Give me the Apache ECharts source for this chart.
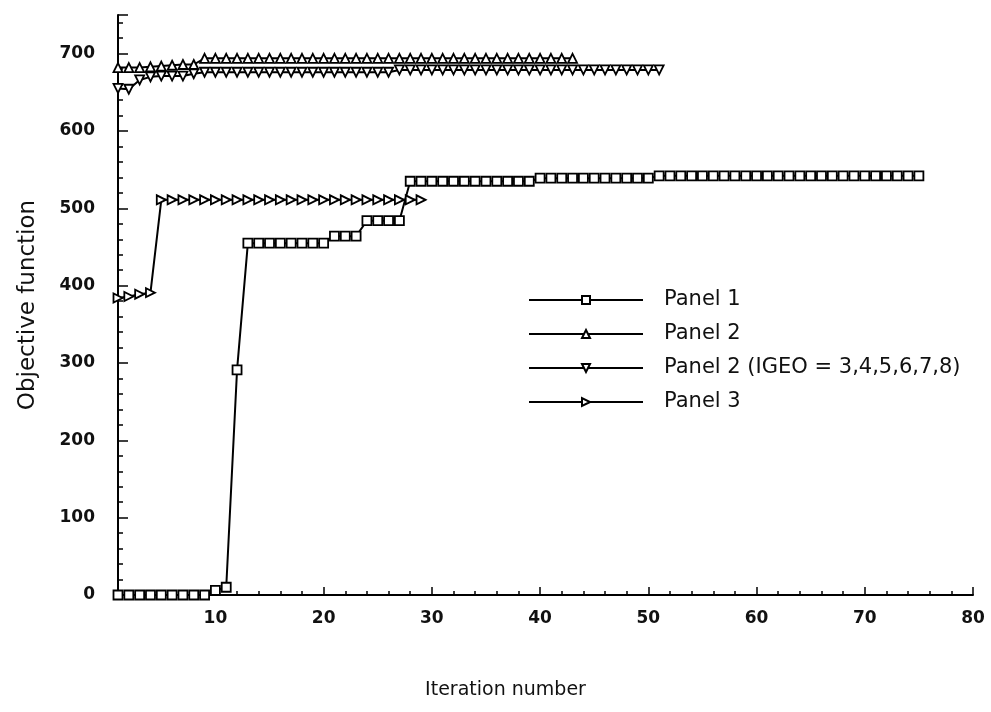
<!DOCTYPE html>
<html>
<head>
<meta charset="utf-8">
<script src="https://cdn.jsdelivr.net/npm/echarts@6/dist/echarts.min.js"></script>
<style>
    html,body{margin:0;padding:0;background:#fff;}
    #chart{width:991px;height:712px;}
</style>
</head>
<body>
<div id="chart"></div>
<script>
//各系列数值，第i个值对应第i+1次迭代
var panel1 = [0,0,0,0,0,0,0,0,0, 6,10, 291,
    455,455,455,455,455,455,455,455,
    464,464,464,
    484,484,484,484,
    535,535,535,535,535,535,535,535,535,535,535,535,
    539,539,539,539,539,539,539,539,539,539,539,
    542,542,542,542,542,542,542,542,542,542,542,542,542,542,542,542,542,542,542,542,542,542,542,542,542];
var panel2 = [682,682,682,683,684,685,686,686,
    694,694,694,694,694,694,694,694,694,694,694,694,694,694,694,694,694,
    694,694,694,694,694,694,694,694,694,694,694,694,694,694,694,694,694,694];
var panel2Igeo = [655,654,666,670,671,671,671,674,
    676,676,676,676,676,676,676,676,676,676,676,676,676,676,676,676,676,676,
    679,679,679,679,679,679,679,679,679,679,679,679,679,679,679,679,679,679,679,679,679,679,679,679,679];
var panel3 = [384,386,389,391,
    511,511,511,511,511,511,511,511,511,511,511,511,511,511,511,511,511,511,511,511,511,511,511,511,511];
var seriesNames = ['Panel 1','Panel 2','Panel 2 (IGEO = 3,4,5,6,7,8)','Panel 3'];

//把数组转成[迭代次数, 值]
function toPoints(arr){
    let pts = [];
    for(let i=0; i<arr.length; i++){
        pts.push([i+1, arr[i]]);
    }
    return pts;
}

var font = 'DejaVu Sans, Liberation Sans, sans-serif';
function makeLine(name, arr, symbol, rotate){
    return {
        name: name,
        type: 'line',
        data: toPoints(arr),
        symbol: symbol,
        symbolSize: 9,
        symbolRotate: rotate,
        showAllSymbol: true,
        clip: false,
        lineStyle: {color: '#000', width: 2},
        itemStyle: {color: '#fff', borderColor: '#000', borderWidth: 1.8}
    };
}

var chart = echarts.init(document.getElementById('chart'));
var option = {
    animation: false,
    backgroundColor: '#fff',
    grid: {left: 118, right: 18, top: 15, bottom: 117},
    legend: {
        orient: 'vertical',
        left: 523,
        top: 284,
        itemWidth: 114,
        itemHeight: 10,
        itemGap: 12,
        data: seriesNames,
        textStyle: {fontFamily: font, fontSize: 21, color: '#111', lineHeight: 22, padding: [0,0,0,16]}
    },
    xAxis: {
        type: 'value',
        min: 1,
        max: 80,
        splitNumber: 8,
        name: 'Iteration number',
        nameLocation: 'middle',
        nameGap: 86,
        nameTextStyle: {fontFamily: font, fontSize: 19, color: '#111', padding: [0,80,0,0]},
        axisLine: {lineStyle: {color: '#000', width: 2}},
        axisTick: {inside: true, length: 8, lineStyle: {color: '#000', width: 1.5}},
        minorTick: {show: true, splitNumber: 5, length: 4, lineStyle: {color: '#000', width: 1.5}},
        axisLabel: {showMinLabel: false, fontFamily: font, fontSize: 17, fontWeight: 'bold', color: '#111', margin: 15},
        splitLine: {show: false}
    },
    yAxis: {
        type: 'value',
        min: 0,
        max: 750,
        interval: 100,
        name: 'Objective function',
        nameLocation: 'middle',
        nameGap: 78,
        nameTextStyle: {fontFamily: font, fontSize: 23, color: '#111'},
        axisLine: {lineStyle: {color: '#000', width: 2}},
        axisTick: {inside: true, length: 10, lineStyle: {color: '#000', width: 1.5}},
        minorTick: {show: true, splitNumber: 5, length: 5, lineStyle: {color: '#000', width: 1.5}},
        axisLabel: {showMaxLabel: false, fontFamily: font, fontSize: 17, fontWeight: 'bold', color: '#111', margin: 23},
        splitLine: {show: false}
    },
    series: [
        makeLine(seriesNames[0], panel1, 'rect', 0),
        makeLine(seriesNames[1], panel2, 'triangle', 0),
        makeLine(seriesNames[2], panel2Igeo, 'triangle', 180),
        makeLine(seriesNames[3], panel3, 'triangle', -90)
    ]
};
chart.setOption(option);
</script>
</body>
</html>
